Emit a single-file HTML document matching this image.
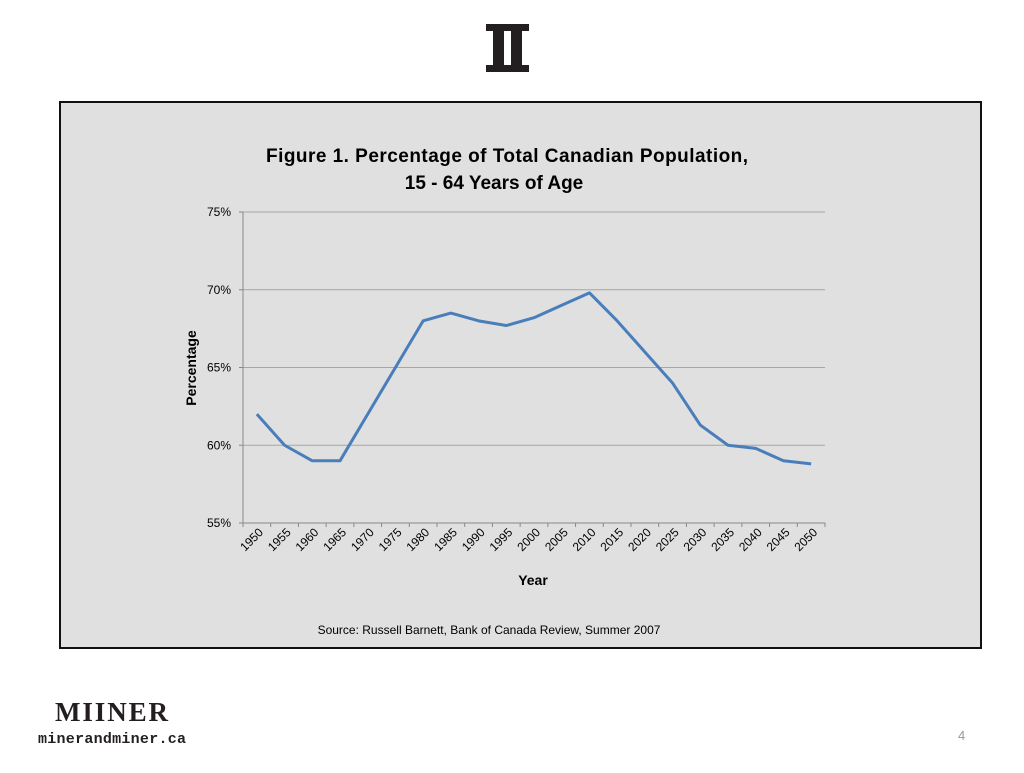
<!DOCTYPE html>
<html><head><meta charset="utf-8"><style>
body{margin:0;width:1024px;height:768px;background:#fff;overflow:hidden;font-family:"Liberation Sans",sans-serif}
</style></head><body>
<svg width="1024" height="768">
<g fill="#231f20">
<rect x="486" y="24" width="43" height="7"/><rect x="486" y="65" width="43" height="7"/>
<rect x="493" y="28" width="11" height="40"/><rect x="511" y="28" width="11" height="40"/>
</g>
<rect x="60" y="102" width="921" height="546" fill="#e0e0e0" stroke="#111" stroke-width="2"/>
<text x="507" y="162" text-anchor="middle" font-size="19" font-weight="bold" textLength="482">Figure 1. Percentage of Total Canadian Population,</text>
<text x="494" y="189" text-anchor="middle" font-size="19" font-weight="bold">15 - 64 Years of Age</text>
<g id="plot"></g>
<text transform="translate(196,368) rotate(-90)" text-anchor="middle" font-size="14" font-weight="bold">Percentage</text>
<text x="533" y="585" text-anchor="middle" font-size="14" font-weight="bold">Year</text>
<text x="489" y="634" text-anchor="middle" font-size="12">Source: Russell Barnett, Bank of Canada Review, Summer 2007</text>
<text x="55" y="721" font-family="Liberation Serif,serif" font-weight="bold" font-size="27" fill="#231f20" textLength="113">MIINER</text>
<text x="38" y="743" font-family="Liberation Mono,monospace" font-size="15" font-weight="bold" fill="#231f20" textLength="148">minerandminer.ca</text>
<text x="958" y="740" font-size="13" fill="#999">4</text>
</svg>
<script>
const categories=[1950,1955,1960,1965,1970,1975,1980,1985,1990,1995,2000,2005,2010,2015,2020,2025,2030,2035,2040,2045,2050];
const values=[62,60,59,59,62,65,68,68.5,68,67.7,68.2,69,69.8,68,66,64,61.3,60,59.8,59,58.8];
const yTicks=[55,60,65,70,75];
const NS="http://www.w3.org/2000/svg",g=document.getElementById('plot');
const L=243,R=825,T=212,B=523,bw=(R-L)/categories.length;
const y=v=>B-(v-55)/20*(B-T), x=i=>L+bw*(i+0.5);
function mk(t,a){const e=document.createElementNS(NS,t);for(const k in a)e.setAttribute(k,a[k]);g.appendChild(e);return e;}
yTicks.forEach(v=>{
 if(v>55){const l=mk('line',{x1:L,x2:R,y1:y(v),y2:y(v),stroke:'#a6a6a6'});
 
 }
 const t=mk('text',{x:L-12,y:y(v)+4,'text-anchor':'end','font-size':12});t.textContent=v+'%';
 
 
 mk('line',{x1:L-4,x2:L,y1:y(v),y2:y(v),stroke:'#888'});
});
const ya=mk('line',{x1:L,x2:L,y1:T,y2:B,stroke:'#888'});


const xa=mk('line',{x1:L,x2:R,y1:B,y2:B,stroke:'#888'});


categories.forEach((c,i)=>{
 mk('line',{x1:L+bw*i,x2:L+bw*i,y1:B,y2:B+4,stroke:'#888'});
 const t=mk('text',{transform:`translate(${x(i)+7},${B+10}) rotate(-45)`,'text-anchor':'end','font-size':12});t.textContent=c;
 
 
});
mk('line',{x1:R,x2:R,y1:B,y2:B+4,stroke:'#888'});
const p=mk('polyline',{points:values.map((v,i)=>x(i)+','+y(v)).join(' '),fill:'none',stroke:'#4a7ebb','stroke-width':3,'stroke-linejoin':'round'});


</script>
</body></html>
